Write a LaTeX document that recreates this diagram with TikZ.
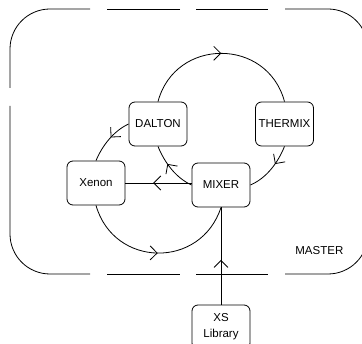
\documentclass[tikz,border=0pt]{standalone}
\usepackage{fontspec}
\setmainfont{Liberation Sans}
\usetikzlibrary{arrows.meta,decorations.markings}

\begin{document}
\begin{tikzpicture}[x=1pt, y=1pt, line width=0.8pt]
        % Common Styles
        \tikzset{module/.style={draw, rectangle, rounded corners=6pt, minimum width=58pt, minimum height=44pt, inner sep=1pt, align=center, font=\fontsize{11.5}{16}\selectfont}}
        \tikzset{flow/.style={decoration={markings, mark=at position #1 with {\arrow{Straight Barb[length=7pt, width=14pt]}}}, postaction={decorate}}}
        \tikzset{frame/.style={line width=0.8pt}}

        \useasboundingbox (0,0) rectangle (362,-344);
        \clip (0,0) rectangle (362,-344);

        % Master frame
        \draw[frame] (90,-9) -- (50,-9) arc[start angle=90, end angle=180, radius=40] -- (10,-88);
        \draw[frame] (10,-106) -- (10,-234) arc[start angle=180, end angle=270, radius=40] -- (90,-274);
        \draw[frame] (107,-274) -- (180,-274);
        \draw[frame] (196,-274) -- (268,-274);
        \draw[frame] (285,-274) -- (328,-274) arc[start angle=-90, end angle=0, radius=40] -- (368,-49) arc[start angle=0, end angle=90, radius=40] -- (285,-9);
        \draw[frame] (268,-9) -- (196,-9);
        \draw[frame] (180,-9) -- (107,-9);
        \node[anchor=west, inner sep=0pt, font=\fontsize{11.5}{16}\selectfont] (master) at (295,-251) {MASTER};

        % Codes
        \node[module] (DALTON) at (158,-124) {DALTON};
        \node[module] (THERMIX) at (284.5,-124) {THERMIX};
        \node[module] (Xenon) at (96,-183) {Xenon};
        \node[module] (MIXER) at (221,-185) {MIXER};
        \node[module] (XS) at (221,-327) {XS\\Library};

        % Coupling
        \draw[flow=0.5] (DALTON.north) to[out=75, in=105, looseness=1.35] (THERMIX.north);
        \draw[flow=0.38] (THERMIX.south) to[out=-112, in=23, looseness=0.87] (MIXER.east);
        \draw[flow=0.62] (MIXER.west) to[out=156, in=-68, looseness=0.86] (DALTON.south);
        \draw[flow=0.45] (DALTON.west) to[out=-155, in=67, looseness=0.86] (Xenon.north);
        \draw[flow=0.5] (Xenon.south) to[out=-74, in=-108, looseness=1.33] (MIXER.south);
        \draw[flow=0.58] (MIXER.west |- Xenon.east) -- (Xenon.east);
        \draw[flow=0.46] (XS.north) -- (MIXER.south);
\end{tikzpicture}
\end{document}
